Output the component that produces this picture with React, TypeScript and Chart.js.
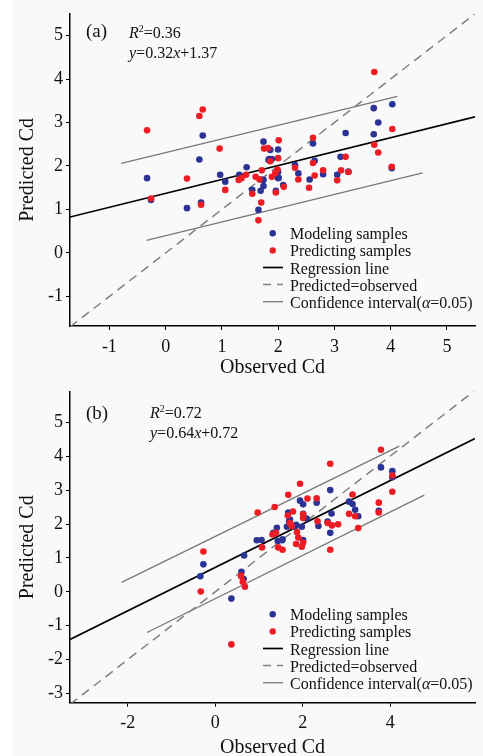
import React, { useEffect, useRef } from 'react';
import { Chart, registerables } from 'chart.js';

Chart.register(...registerables);

type Pt = [number, number];

const FONT = '"Liberation Serif", "Times New Roman", Times, serif';
const BLUE = '#2b3494';
const RED = '#ee1d25';
const GREY_DASH = '#808080';
const GREY_CI = '#787878';

// ---------------- Panel (a) data ----------------
const modelingA: Pt[] = [
  [-0.33, 1.72], [0.66, 2.7], [0.6, 2.15], [1.44, 1.97], [0.97, 1.8], [1.06, 1.64], [1.31, 1.8],
  [1.74, 2.56], [1.84, 2.16], [2.0, 2.38], [1.89, 2.16], [1.69, 1.69], [2.0, 1.72], [2.0, 1.86],
  [1.74, 1.54], [2.09, 1.56], [1.96, 1.43], [1.54, 1.45], [1.69, 1.43], [2.3, 2.02], [2.36, 1.83],
  [2.62, 2.52], [2.65, 2.12], [2.56, 1.69], [2.8, 1.81], [3.05, 1.8], [3.11, 2.21], [3.2, 2.76],
  [3.25, 1.87], [3.7, 3.33], [3.78, 3.0], [3.7, 2.73], [4.03, 3.42], [4.02, 1.95], [0.63, 1.16],
  [-0.26, 1.22], [0.38, 1.03], [1.65, 0.99], [1.74, 1.68], [2.01, 1.73], [1.86, 2.37], [1.83, 2.14],
];
const predictingA: Pt[] = [
  [-0.33, 2.82], [0.6, 3.15], [0.66, 3.3], [0.96, 2.4], [0.38, 1.71], [1.06, 1.45], [3.71, 4.16],
  [2.01, 2.59], [1.75, 2.4], [1.82, 2.41], [1.86, 2.11], [2.0, 2.18], [1.71, 1.9], [1.89, 1.75],
  [1.95, 1.84], [1.3, 1.68], [1.35, 1.72], [1.43, 1.8], [1.67, 1.69], [1.99, 1.92], [2.3, 1.96],
  [2.36, 1.69], [2.62, 2.65], [2.62, 2.07], [2.65, 1.78], [2.8, 1.9], [2.55, 1.5], [3.05, 1.67],
  [3.12, 1.9], [3.2, 2.21], [3.25, 1.86], [3.71, 2.49], [3.78, 2.31], [4.03, 2.85], [4.02, 1.98],
  [2.1, 1.52], [1.96, 1.39], [1.54, 1.36], [1.7, 1.16], [-0.26, 1.25], [0.63, 1.11], [1.65, 0.75],
  [1.6, 1.75],
];
const fitA = { slope: 0.32, intercept: 1.37, r2: '0.36' };
const upperCIA: Pt[] = [[-0.79, 2.06], [4.12, 3.6]];
const lowerCIA: Pt[] = [[-0.34, 0.29], [4.57, 1.84]];
const xTicksA = [-1, 0, 1, 2, 3, 4, 5];
const yTicksA = [-1, 0, 1, 2, 3, 4, 5];
const xRangeA: Pt = [-1.7, 5.5];
const yRangeA: Pt = [-1.68, 5.5];

// ---------------- Panel (b) data ----------------
const modelingB: Pt[] = [
  [3.79, 3.67], [4.05, 3.56], [4.05, 3.38], [2.63, 3.0], [1.94, 2.69], [2.01, 2.58], [2.32, 2.63],
  [3.06, 2.66], [3.14, 2.59], [3.2, 2.42], [3.27, 2.23], [3.74, 2.39], [1.67, 2.34], [2.01, 2.3],
  [2.09, 2.16], [1.71, 2.13], [1.64, 1.92], [1.81, 1.93], [1.98, 1.92], [2.36, 1.94], [2.57, 2.07],
  [2.66, 2.31], [2.63, 1.74], [1.41, 1.89], [1.33, 1.74], [1.54, 1.55], [1.43, 1.5], [0.95, 1.52],
  [1.06, 1.53], [2.01, 1.53], [0.66, 1.07], [-0.27, 0.81], [-0.34, 0.46], [0.37, -0.2], [0.6, 0.59],
  [0.65, 0.38], [1.69, 2.08], [1.85, 1.98], [1.53, 1.52],
];
const predictingB: Pt[] = [
  [3.79, 4.19], [2.63, 3.78], [1.94, 3.19], [1.67, 2.86], [2.32, 2.76], [2.11, 2.75], [1.36, 2.5],
  [0.97, 2.34], [1.78, 2.37], [1.66, 2.25], [2.01, 2.29], [2.01, 2.18], [2.34, 2.08], [2.81, 1.99],
  [2.57, 2.03], [2.67, 1.96], [3.14, 2.87], [3.06, 2.3], [3.2, 2.23], [3.27, 1.88], [3.74, 2.63],
  [3.74, 2.34], [4.05, 3.43], [4.05, 2.95], [1.71, 2.03], [1.75, 1.94], [1.87, 1.76], [1.9, 1.6],
  [1.85, 1.41], [2.01, 1.45], [1.98, 1.33], [1.39, 1.74], [1.31, 1.69], [1.44, 1.31], [1.54, 1.24],
  [1.07, 1.31], [2.63, 1.24], [-0.27, 1.19], [-0.33, 0.01], [0.59, 0.47], [0.63, 0.3], [0.68, 0.15],
  [0.37, -1.55],
];
const fitB = { slope: 0.64, intercept: 0.72, r2: '0.72' };
const upperCIB: Pt[] = [[-2.14, 0.28], [4.21, 4.3]];
const lowerCIB: Pt[] = [[-1.56, -1.2], [4.78, 2.85]];
const xTicksB = [-2, 0, 2, 4];
const yTicksB = [-3, -2, -1, 0, 1, 2, 3, 4, 5];
const xRangeB: Pt = [-3.32, 5.94];
const yRangeB: Pt = [-3.27, 5.9];

const legendLabels = ['Modeling samples', 'Predicting samples', 'Regression line', 'Predicted=observed', 'Confidence interval('];
const xTitle = 'Observed Cd';
const yTitle = 'Predicted Cd';

interface Panel {
  tag: string;
  modeling: Pt[];
  predicting: Pt[];
  fit: { slope: number; intercept: number; r2: string };
  upperCI: Pt[];
  lowerCI: Pt[];
  xTicks: number[];
  yTicks: number[];
  xRange: Pt;
  yRange: Pt;
  // layout
  top: number;
  height: number;
  padTop: number;
  xAxisHeight: number;
  titleLH: number;
  tagY: number;
  eqX: number;
  eqY: number;
  legendY: number;
}

const panels: Panel[] = [
  {
    tag: '(a)', modeling: modelingA, predicting: predictingA, fit: fitA, upperCI: upperCIA, lowerCI: lowerCIA,
    xTicks: xTicksA, yTicks: yTicksA, xRange: xRangeA, yRange: yRangeA,
    top: 0, height: 378, padTop: 10, xAxisHeight: 52, titleLH: 1, tagY: 37, eqX: 129, eqY: 38, legendY: 233.3,
  },
  {
    tag: '(b)', modeling: modelingB, predicting: predictingB, fit: fitB, upperCI: upperCIB, lowerCI: lowerCIB,
    xTicks: xTicksB, yTicks: yTicksB, xRange: xRangeB, yRange: yRangeB,
    top: 378, height: 378, padTop: 8.7, xAxisHeight: 53.3, titleLH: 0.84, tagY: 41, eqX: 150, eqY: 40, legendY: 236.3,
  },
];

type Run = { t: string; italic?: boolean; sup?: boolean };

function drawRuns(ctx: CanvasRenderingContext2D, x: number, y: number, runs: Run[], size: number) {
  let cx = x;
  ctx.textAlign = 'left';
  ctx.textBaseline = 'alphabetic';
  for (const r of runs) {
    const s = r.sup ? size * 0.62 : size;
    ctx.font = `${r.italic ? 'italic ' : ''}${s}px ${FONT}`;
    ctx.fillText(r.t, cx, r.sup ? y - size * 0.4 : y);
    cx += ctx.measureText(r.t).width;
  }
}

function textPlugin(p: Panel) {
  return {
    id: 'panelText',
    afterDraw(chart: any) {
      const ctx: CanvasRenderingContext2D = chart.ctx;
      ctx.save();
      ctx.fillStyle = '#111';
      // panel tag
      drawRuns(ctx, 86, p.tagY, [{ t: p.tag }], 19);
      // statistics
      drawRuns(ctx, p.eqX, p.eqY, [{ t: 'R', italic: true }, { t: '2', sup: true }, { t: '=' + p.fit.r2 }], 16);
      drawRuns(ctx, p.eqX, p.eqY + 19.5, [
        { t: 'y', italic: true }, { t: '=' + p.fit.slope.toFixed(2) }, { t: 'x', italic: true },
        { t: '+' + p.fit.intercept.toFixed(2) },
      ], 16);
      // legend
      const symX = 272.7;
      const textX = 290;
      const step = 17.1;
      legendLabels.forEach((label, i) => {
        const y = p.legendY + i * step;
        ctx.setLineDash([]);
        if (i < 2) {
          ctx.fillStyle = i === 0 ? BLUE : RED;
          ctx.beginPath();
          ctx.arc(symX, y, 3.2, 0, Math.PI * 2);
          ctx.fill();
        } else {
          ctx.beginPath();
          ctx.moveTo(263, y);
          ctx.lineTo(283, y);
          if (i === 2) { ctx.strokeStyle = '#000'; ctx.lineWidth = 1.7; }
          if (i === 3) { ctx.strokeStyle = GREY_DASH; ctx.lineWidth = 1.5; ctx.setLineDash([8, 6]); }
          if (i === 4) { ctx.strokeStyle = GREY_CI; ctx.lineWidth = 1.3; }
          ctx.stroke();
        }
        ctx.fillStyle = '#111';
        const runs: Run[] = i === 4
          ? [{ t: label }, { t: 'α', italic: true }, { t: '=0.05)' }]
          : [{ t: label }];
        drawRuns(ctx, textX, y + 6, runs, 16);
      });
      ctx.restore();
    },
  };
}

function buildConfig(p: Panel): any {
  const toXY = (pts: Pt[]) => pts.map(([x, y]) => ({ x, y }));
  const [x0, x1] = p.xRange;
  const fitLine = [x0, x1].map((x) => ({ x, y: p.fit.slope * x + p.fit.intercept }));
  const lo = Math.min(x0, p.yRange[0]);
  const hi = Math.max(x1, p.yRange[1]);
  const oneToOne = [{ x: lo, y: lo }, { x: hi, y: hi }];
  const tickFont = { family: FONT, size: 18 };
  const titleFont = { family: FONT, size: 20, lineHeight: p.titleLH };
  return {
    type: 'scatter',
    data: {
      datasets: [
        { label: 'Predicting samples', data: toXY(p.predicting), backgroundColor: RED, pointBorderWidth: 0, pointRadius: 3.3, order: 0 },
        { label: 'Modeling samples', data: toXY(p.modeling), backgroundColor: BLUE, pointBorderWidth: 0, pointRadius: 3.3, order: 1 },
        { label: 'Regression line', data: fitLine, showLine: true, borderColor: '#000', borderWidth: 1.7, pointRadius: 0, order: 2 },
        { label: 'Predicted=observed', data: oneToOne, showLine: true, borderColor: GREY_DASH, borderDash: [9, 6], borderWidth: 1.5, pointRadius: 0, order: 3 },
        { label: 'Confidence upper', data: toXY(p.upperCI), showLine: true, borderColor: GREY_CI, borderWidth: 1.3, pointRadius: 0, order: 4 },
        { label: 'Confidence lower', data: toXY(p.lowerCI), showLine: true, borderColor: GREY_CI, borderWidth: 1.3, pointRadius: 0, order: 5 },
      ],
    },
    options: {
      responsive: false,
      animation: false,
      events: [],
      layout: { padding: { top: p.padTop, right: 8, left: 0, bottom: 0 } },
      plugins: { legend: { display: false }, tooltip: { enabled: false } },
      scales: {
        x: {
          type: 'linear',
          min: p.xRange[0],
          max: p.xRange[1],
          afterBuildTicks: (s: any) => { s.ticks = p.xTicks.map((value) => ({ value })); },
          afterFit: (s: any) => { s.height = p.xAxisHeight; },
          border: { display: true, color: '#000', width: 1.5 },
          grid: { drawOnChartArea: false, drawTicks: true, tickLength: 4, color: '#000', lineWidth: 1 },
          ticks: { font: tickFont, color: '#111', padding: 6, autoSkip: false, maxRotation: 0, callback: (v: any) => String(v) },
          title: { display: true, text: xTitle, font: titleFont, color: '#111', padding: 0 },
        },
        y: {
          type: 'linear',
          min: p.yRange[0],
          max: p.yRange[1],
          afterBuildTicks: (s: any) => { s.ticks = p.yTicks.map((value) => ({ value })); },
          afterFit: (s: any) => { s.width = 70; },
          border: { display: true, color: '#000', width: 1.5 },
          grid: { drawOnChartArea: false, drawTicks: true, tickLength: 4, color: '#000', lineWidth: 1 },
          ticks: { font: tickFont, color: '#111', padding: 3, autoSkip: false, callback: (v: any) => String(v) },
          title: { display: true, text: yTitle, font: { family: FONT, size: 20, lineHeight: 1 }, color: '#111', padding: { top: 18, bottom: 0 } },
        },
      },
    },
    plugins: [textPlugin(p)],
  };
}

function PanelChart({ panel }: { panel: Panel }) {
  const ref = useRef<HTMLCanvasElement | null>(null);
  useEffect(() => {
    if (!ref.current) return;
    const chart = new Chart(ref.current, buildConfig(panel));
    return () => chart.destroy();
  }, [panel]);
  return (
    <canvas
      ref={ref}
      width={483}
      height={panel.height}
      style={{ position: 'absolute', left: 0, top: panel.top, width: 483, height: panel.height, display: 'block' }}
    />
  );
}

export default function App() {
  return (
    <div style={{ position: 'absolute', left: 0, top: 0, width: 483, height: 756, background: '#ffffff', overflow: 'hidden' }}>
      <div style={{ position: 'absolute', left: 12, top: 0, width: 471, height: 756, background: '#f9f9f9' }} />
      {panels.map((p) => (
        <PanelChart key={p.tag} panel={p} />
      ))}
    </div>
  );
}
